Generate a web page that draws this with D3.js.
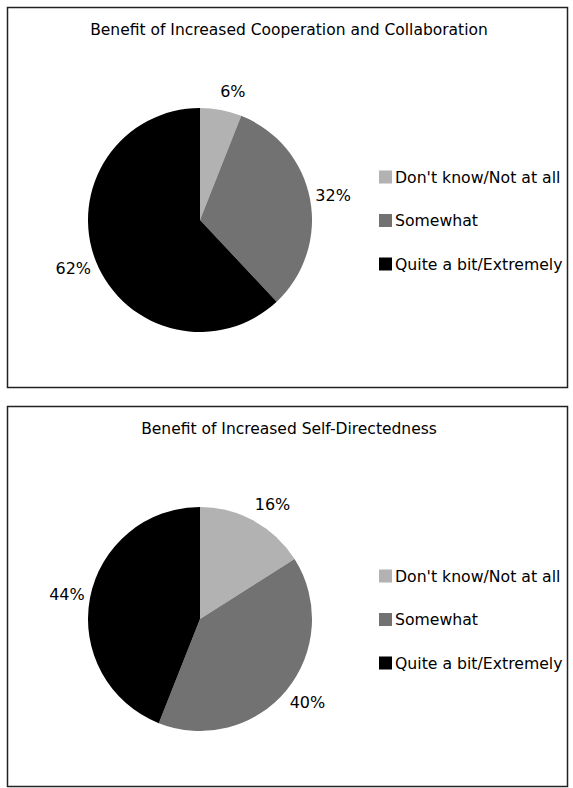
<!DOCTYPE html>
<html>
<head>
<meta charset="utf-8">
<script src="https://cdn.jsdelivr.net/npm/d3@7"></script>
<style>
  body { margin: 0; background: #fff; }
  text { font-family: "DejaVu Sans", Verdana, sans-serif; fill: #000; }
</style>
</head>
<body>
<div id="chart"></div>
<script>
const categories = ["Don't know/Not at all", "Somewhat", "Quite a bit/Extremely"];
const colors = ["#b2b2b2", "#727272", "#000000"];
const titles = ["Benefit of Increased Cooperation and Collaboration", "Benefit of Increased Self-Directedness"];
const cooperationValues = [6, 32, 62];
const selfDirectedValues = [16, 40, 44];

const width = 573;
const height = 788;

const panels = [
  { title: titles[0], values: cooperationValues, top: 7 },
  { title: titles[1], values: selfDirectedValues, top: 406 },
];

const svg = d3
  .select("#chart")
  .append("svg")
  .attr("width", width)
  .attr("height", height);

const color = d3.scaleOrdinal().domain(categories).range(colors);

const pie = d3
  .pie()
  .sort(null)
  .value((d) => d.value);

const panelHeight = 380;
const radius = 112;
const labelRadius = 121;

const arc = d3.arc().innerRadius(0).outerRadius(radius);

panels.forEach((panel) => {
  const g = svg.append("g").attr("transform", `translate(0, ${panel.top})`);

  g.append("rect")
    .attr("x", 7.5)
    .attr("y", 0.5)
    .attr("width", 560)
    .attr("height", panelHeight)
    .attr("fill", "#fff")
    .attr("stroke", "#222")
    .attr("stroke-width", 1.5);

  g.append("text")
    .attr("x", 289)
    .attr("y", 23)
    .attr("text-anchor", "middle")
    .attr("dominant-baseline", "central")
    .style("font-size", "15.5px")
    .text(panel.title);

  const data = categories.map((c, i) => ({ name: c, value: panel.values[i] }));
  const arcs = pie(data);

  const pieG = g.append("g").attr("transform", `translate(200, ${213})`);

  pieG
    .selectAll("path")
    .data(arcs)
    .enter()
    .append("path")
    .attr("d", arc)
    .attr("fill", (d) => color(d.data.name));

  // labels sit just outside the rim, nudged sideways by part of their width
  pieG
    .selectAll("text")
    .data(arcs)
    .enter()
    .append("text")
    .attr("text-anchor", "middle")
    .attr("dominant-baseline", "central")
    .style("font-size", "16px")
    .text((d) => d.data.value + "%")
    .attr("transform", function (d) {
      const a = (d.startAngle + d.endAngle) / 2;
      const box = this.getBBox();
      const x = Math.sin(a) * labelRadius + Math.sign(Math.sin(a)) * 0.4 * box.width;
      const y = -Math.cos(a) * (labelRadius + box.height / 2);
      return `translate(${x}, ${y})`;
    });

  const legend = g
    .selectAll(".legend")
    .data(categories)
    .enter()
    .append("g")
    .attr("class", "legend")
    .attr("transform", (d, i) => `translate(379, ${170 + i * 43.5})`);

  legend
    .append("rect")
    .attr("x", 0)
    .attr("y", -6.5)
    .attr("width", 13)
    .attr("height", 13)
    .attr("fill", (d) => color(d));

  legend
    .append("text")
    .attr("x", 16)
    .attr("y", 0)
    .attr("dominant-baseline", "central")
    .style("font-size", "15.7px")
    .text((d) => d);
});
</script>
</body>
</html>
